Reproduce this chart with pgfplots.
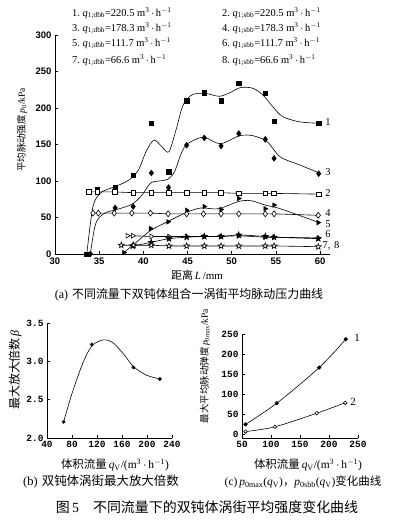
\documentclass[border=0pt]{standalone}
\usepackage{pgfplots}
\pgfplotsset{compat=1.18}
\usepackage{fontspec}
\setmainfont{Liberation Serif}
\newfontfamily\cjk{Noto Sans CJK SC}
\newfontfamily\tf{Liberation Sans}
\newfontfamily\mf{Liberation Mono}
\usetikzlibrary{plotmarks}

\pgfdeclareplotmark{pstar}{%
  \pgfpathmoveto{\pgfpointpolar{90}{1.25\pgfplotmarksize}}%
  \pgfpathlineto{\pgfpointpolar{126}{0.5\pgfplotmarksize}}%
  \pgfpathlineto{\pgfpointpolar{162}{1.25\pgfplotmarksize}}%
  \pgfpathlineto{\pgfpointpolar{198}{0.5\pgfplotmarksize}}%
  \pgfpathlineto{\pgfpointpolar{234}{1.25\pgfplotmarksize}}%
  \pgfpathlineto{\pgfpointpolar{270}{0.5\pgfplotmarksize}}%
  \pgfpathlineto{\pgfpointpolar{306}{1.25\pgfplotmarksize}}%
  \pgfpathlineto{\pgfpointpolar{342}{0.5\pgfplotmarksize}}%
  \pgfpathlineto{\pgfpointpolar{18}{1.25\pgfplotmarksize}}%
  \pgfpathlineto{\pgfpointpolar{54}{0.5\pgfplotmarksize}}%
  \pgfpathclose
  \pgfusepathqfillstroke}

\pgfplotsset{
  myax/.style={scale only axis, axis lines*=left, tick align=inside,
    major tick length=3pt, axis line style={line width=0.6pt},
    every tick/.style={line width=0.5pt,black},
    /pgf/number format/assume math mode=true,
    tick label style={font=\tf\bfseries\fontsize{9.5}{10}\selectfont},
    clip=false},
  cv/.style={black, line width=0.6pt, smooth, no markers},
}

\begin{document}
\begin{tikzpicture}[x=1bp,y=1bp]
\useasboundingbox (0,0) rectangle (395,522);

% ---- legend text ----
\begin{scope}[every node/.style={anchor=west,inner sep=0pt,font=\fontsize{10.5}{11}\selectfont}]
\node at (72,509) {1.\ \textit{q}\textsubscript{1;dbb}=220.5 m\textsuperscript{3}\,$\cdot$\,h\textsuperscript{$-$1}};
\node at (72,494) {3.\ \textit{q}\textsubscript{1;dbb}=178.3 m\textsuperscript{3}\,$\cdot$\,h\textsuperscript{$-$1}};
\node at (72,479) {5.\ \textit{q}\textsubscript{1;dbb}=111.7 m\textsuperscript{3}\,$\cdot$\,h\textsuperscript{$-$1}};
\node at (72,462) {7.\ \textit{q}\textsubscript{1;dbb}=66.6 m\textsuperscript{3}\,$\cdot$\,h\textsuperscript{$-$1}};
\node at (222,509) {2.\ \textit{q}\textsubscript{1;sbb}=220.5 m\textsuperscript{3}\,$\cdot$\,h\textsuperscript{$-$1}};
\node at (222,494) {4.\ \textit{q}\textsubscript{1;sbb}=178.3 m\textsuperscript{3}\,$\cdot$\,h\textsuperscript{$-$1}};
\node at (222,479) {6.\ \textit{q}\textsubscript{1;sbb}=111.7 m\textsuperscript{3}\,$\cdot$\,h\textsuperscript{$-$1}};
\node at (222,462) {8.\ \textit{q}\textsubscript{1;sbb}=66.6 m\textsuperscript{3}\,$\cdot$\,h\textsuperscript{$-$1}};
\end{scope}

% ---- (a) ----
\begin{axis}[myax, at={(55bp,268bp)}, anchor=south west,
  width=275bp, height=219bp, xmin=30, xmax=61.13, ymin=0, ymax=300,
  xtick={30,35,...,60}, ytick={0,50,...,300}]
% curve 1
\addplot[cv] coordinates {(33.6,0) (34.3,65) (35.2,84) (36.5,91) (38.2,100) (39.4,114) (40.3,140) (41.2,156) (42.1,147) (42.9,140) (43.7,170) (44.5,204) (45.5,218) (47,220) (48.6,216) (49.8,221) (51,228) (52.4,227) (53.6,217) (54.7,201) (55.8,188) (57.7,181) (60,179)};
\addplot[only marks, mark=square*, mark size=2.3pt, black] coordinates {(33.6,0) (34.8,88) (36.8,91) (38.85,108) (40.9,179) (42.85,113) (44.9,210) (46.9,221) (48.8,210) (50.8,234) (53.8,220) (54.8,182) (59.85,179)};
% curve 3
\addplot[cv] coordinates {(34.0,0) (34.5,37) (35,50) (35.8,57) (37,61) (38.7,68) (39.8,80) (40.8,97) (41.8,100) (42.7,102) (43.5,112) (44.3,138) (45,151) (46.8,160) (48.7,151) (50.9,162) (52.4,162) (54,154) (55.5,133) (57.7,122) (59.9,111)};
\addplot[only marks, mark=diamond*, mark size=3pt, black] coordinates {(34.0,0) (36.8,63) (38.85,65) (40.9,111) (42.85,91) (44.9,149) (46.9,159) (48.8,148) (50.8,165) (53.8,157) (54.8,131) (59.85,110)};
% curve 2
\addplot[black, line width=0.6pt, mark=square*, mark size=2.3pt, mark options={fill=white}] coordinates {(33.8,85) (34.8,85) (36.8,85) (38.85,84) (40.9,84) (42.85,84) (44.9,84) (46.9,84) (48.8,84) (50.8,83) (53.8,83) (54.8,83) (59.85,82)};
% curve 4
\addplot[black, line width=0.6pt, mark=diamond*, mark size=3pt, mark options={fill=white}] coordinates {(34.3,56) (34.9,56) (36.7,56) (38.7,56) (40.8,56) (42.8,55) (44.9,55) (46.8,55) (48.8,55) (50.8,55) (53.8,55) (54.8,55) (59.8,53)};
% curve 5
\addplot[cv] coordinates {(37.6,0) (39,14) (40.8,32) (42.7,44) (44.9,57) (46.5,63) (48.5,62) (50.8,72) (52.2,73) (53.8,67) (55.5,62) (59.9,43)};
\addplot[only marks, mark=triangle*, mark size=2.7pt, mark options={rotate=-90}, black] coordinates {(37.8,2) (40.8,35) (42.8,44) (44.9,60) (46.9,65) (48.8,61) (50.8,76) (53.8,62) (54.8,67) (59.8,43)};
% curve 6
\addplot[black, line width=0.6pt, mark=triangle*, mark size=2.7pt, mark options={rotate=-90, fill=white}] coordinates {(38.2,25) (38.8,25) (40.9,24) (42.9,24) (44.9,24) (46.9,24) (48.8,24) (50.8,25) (53.8,23) (54.8,23) (59.8,22)};
% curve 7
\addplot[black, line width=0.6pt, smooth, mark=pstar, mark size=2.5pt, mark options={fill=black}] coordinates {(38.8,11) (40.9,16) (42.9,21) (44.9,23) (46.9,24) (48.8,24) (50.8,26) (53.8,24) (54.8,23) (59.8,21)};
% curve 8
\addplot[black, line width=0.6pt, mark=pstar, mark size=2.5pt, mark options={fill=white}] coordinates {(37.5,12) (38.9,12) (40.9,12) (42.9,11) (44.9,11) (46.9,11) (48.8,11) (50.8,11) (53.8,11) (54.8,11) (59.8,10)};
\end{axis}

\begin{scope}[every node/.style={inner sep=0pt,font=\fontsize{10.5}{11}\selectfont}]
\node at (328,400) {1};
\node at (328,350) {3};
\node at (328,329) {2};
\node at (328,309) {4};
\node at (328,298) {5};
\node at (328,288) {6};
\node at (331,276) {7,\,\,8};
\end{scope}

\node[rotate=90, inner sep=0pt, font=\fontsize{9.5}{10}\selectfont] at (22,392) {{\cjk 平均脉动强度}\,\textit{p}\textsubscript{0}/kPa};
\node[inner sep=0pt, font=\fontsize{11}{12}\selectfont] at (197,247) {{\cjk 距离}\,\textit{L}\,/mm};
\node[inner sep=0pt, font=\fontsize{12}{13}\selectfont] at (189,227) {(a)\,\,{\cjk 不同流量下双钝体组合一涡街平均脉动压力曲线}};

% ---- (b) ----
\begin{axis}[myax, at={(47bp,84bp)}, anchor=south west,
  width=125bp, height=115bp, xmin=40, xmax=240, ymin=2.0, ymax=3.5,
  xtick={40,80,...,240}, ytick={2.0,2.5,3.0,3.5},
  tick label style={font=\mf\bfseries\fontsize{9.5}{10}\selectfont},
  yticklabel style={/pgf/number format/.cd, fixed, fixed zerofill, precision=1}]
\addplot[cv] coordinates {(66.6,2.21) (80,2.58) (97,2.97) (111.7,3.2) (130,3.28) (146,3.24) (165,3.07) (178.3,2.93) (199,2.82) (220.5,2.77)};
\addplot[only marks, mark=*, mark size=1.7pt, black] coordinates {(66.6,2.21) (111.7,3.22) (178.3,2.92) (220.5,2.77)};
\end{axis}

\node[rotate=90, inner sep=0pt, font=\fontsize{12}{13}\selectfont] at (15,152) {{\cjk 最大放大倍数}\,\textit{β}};
\node[inner sep=0pt, font=\fontsize{11.5}{12}\selectfont] at (115,57) {{\cjk 体积流量}\,\textit{q}\textsubscript{V}/(m\textsuperscript{3}\,$\cdot$\,h\textsuperscript{$-$1})};
\node[inner sep=0pt, font=\fontsize{12.5}{13}\selectfont] at (101,40) {(b)\,\,{\cjk 双钝体涡街最大放大倍数}};

% ---- (c) ----
\begin{axis}[myax, at={(242bp,84bp)}, anchor=south west,
  width=116bp, height=104bp, xmin=50, xmax=250, ymin=-10, ymax=250,
  xtick={50,100,...,250}, ytick={0,50,...,250},
  tick label style={font=\mf\bfseries\fontsize{9.5}{10}\selectfont}]
\addplot[black, line width=0.6pt, smooth, mark=*, mark size=1.8pt, mark options={fill=black}] coordinates {(56,24) (110,77) (183,166) (229,237)};
\addplot[black, line width=0.6pt, smooth, mark=*, mark size=1.8pt, mark options={fill=white}] coordinates {(56,6) (107,18) (179,52) (228,78)};
\end{axis}
\node[inner sep=0pt, font=\fontsize{11}{12}\selectfont] at (357,184) {1};
\node[inner sep=0pt, font=\fontsize{11}{12}\selectfont] at (353,120) {2};

\node[rotate=90, inner sep=0pt, font=\fontsize{9.5}{10}\selectfont] at (205,156) {{\cjk 最大平均脉动弹度}\,\textit{p}\textsubscript{0max}/kPa};
\node[inner sep=0pt, font=\fontsize{11.5}{12}\selectfont] at (308,57) {{\cjk 体积流量}\,\textit{q}\textsubscript{V}/(m\textsuperscript{3}\,$\cdot$\,h\textsuperscript{$-$1})};
\node[inner sep=0pt, font=\fontsize{11.5}{12}\selectfont] at (303,40) {(c)\,\textit{p}\textsubscript{0max}(\textit{q}\textsubscript{V}){\cjk ，}\textit{p}\textsubscript{0sbb}(\textit{q}\textsubscript{V}){\cjk 变化曲线}};

% ---- figure caption ----
\node[inner sep=0pt, font=\fontsize{14}{15}\selectfont] at (207,15) {{\cjk 图}\,5\quad{\cjk 不同流量下的双钝体涡街平均强度变化曲线}};
\end{tikzpicture}
\end{document}
